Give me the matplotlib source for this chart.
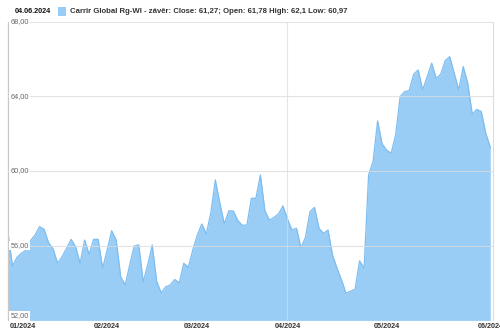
import matplotlib
matplotlib.use("Agg")
import matplotlib.pyplot as plt
import matplotlib.transforms as mtransforms
import numpy as np

plt.rcParams['font.family'] = ['Liberation Sans', 'DejaVu Sans']

close_values = [
    56.66, 54.91, 55.38, 55.60, 55.77, 56.27, 56.57, 57.02, 56.88, 56.16,
    55.84, 55.06, 55.41, 55.86, 56.34, 55.95, 55.06, 56.30, 55.54, 56.34,
    56.34, 54.79, 55.77, 56.80, 56.30, 54.34, 53.90, 54.97, 55.98, 56.04,
    54.07, 54.97, 56.04, 54.07, 53.48, 53.80, 53.90, 54.19, 54.01, 55.06,
    54.84, 55.77, 56.57, 57.16, 56.63, 57.77, 59.52, 58.27, 57.16, 57.87,
    57.86, 57.34, 57.09, 57.11, 58.54,
    58.54, 59.79, 57.87, 57.37, 57.51, 57.70, 58.13, 57.43, 56.84, 56.93,
    55.89, 56.45, 57.82, 58.05, 56.93, 56.66, 56.84, 55.50, 54.79, 54.16,
    53.45, 53.57, 53.66, 55.19, 54.79, 59.79, 60.50, 62.68, 61.45, 61.12,
    60.95, 61.93, 63.98, 64.25, 64.30, 65.18, 65.41, 64.34, 65.05, 65.77,
    64.97, 65.18, 65.91, 66.12, 65.23, 64.34, 65.59, 64.70, 63.04, 63.30,
    63.18, 62.02, 61.27,
]
month_labels = ["01/2024", "02/2024", "03/2024", "04/2024", "05/2024", "06/2024"]
month_index = [0, 22, 42, 62, 84, 106]
y_ticks = [52, 56, 60, 64, 68]
y_tick_labels = ["52,00", "56,00", "60,00", "64,00", "68,00"]
header_date = "04.06.2024"
legend_text = "Carrir Global Rg-WI - závěr: Close: 61,27; Open: 61,78 High: 62,1 Low: 60,97"

fill_color = "#99cdf6"
line_color = "#7dbdf0"
grid_color = "#dcdcdc"

fig = plt.figure(figsize=(5.0, 3.35), dpi=100)
ax = fig.add_axes([0.016, 0.0436, 0.970, 0.892])

x = np.arange(len(close_values))
ax.fill_between(x, 52, close_values, color=fill_color, lw=0, zorder=1)
ax.plot(x, close_values, color=line_color, lw=0.9, zorder=2)

ax.set_xlim(0, len(close_values) - 1 + 0.6)
ax.set_ylim(52, 68)

for yv in y_ticks:
    ax.axhline(yv, color=grid_color, lw=0.8, alpha=0.8, zorder=3)
ax.axvline(month_index[3], color=grid_color, lw=0.8, alpha=0.7, zorder=3)

ax.set_yticks([])
ax.set_xticks(month_index)
ax.set_xticklabels(month_labels, fontsize=5.2, fontweight='bold', color='#333333')
ax.tick_params(axis='x', length=0, pad=2)
lbls = ax.get_xticklabels()
lbls[0].set_horizontalalignment('left')
lbls[0].set_transform(lbls[0].get_transform() + mtransforms.ScaledTranslation(2/100, 0, fig.dpi_scale_trans))
lbls[-1].set_transform(lbls[-1].get_transform() + mtransforms.ScaledTranslation(5/100, 0, fig.dpi_scale_trans))

for s in ['top', 'bottom']:
    ax.spines[s].set_visible(False)
ax.spines['left'].set_color('#c8c8c8')
ax.spines['left'].set_linewidth(0.9)
ax.spines['right'].set_color('#dcdcdc')
ax.spines['right'].set_linewidth(0.8)

trans = mtransforms.blended_transform_factory(ax.transAxes, ax.transData)
for yv, lab in zip(y_ticks, y_tick_labels):
    va = 'bottom' if yv == y_ticks[0] else 'center'
    yy = yv + 0.05 if yv == y_ticks[0] else yv
    ax.text(0.005, yy, lab, transform=trans, fontsize=5.3, color='#666666',
            ha='left', va=va, zorder=5,
            bbox=dict(boxstyle='square,pad=0.15', fc='white', ec='none'))

fig.text(15/500, 1 - 11.7/335, header_date, fontsize=5.2, fontweight='bold',
         color='#111111', ha='left', va='center')
fig.patches.append(plt.Rectangle((58/500, 1 - 15.5/335), 8/500, 8/335,
                                 transform=fig.transFigure, fc=fill_color, ec='none'))
fig.text(70/500, 1 - 11.7/335, legend_text, fontsize=5.6, fontweight='bold',
         color='#333333', ha='left', va='center')

fig.savefig("out.png", dpi=100)
